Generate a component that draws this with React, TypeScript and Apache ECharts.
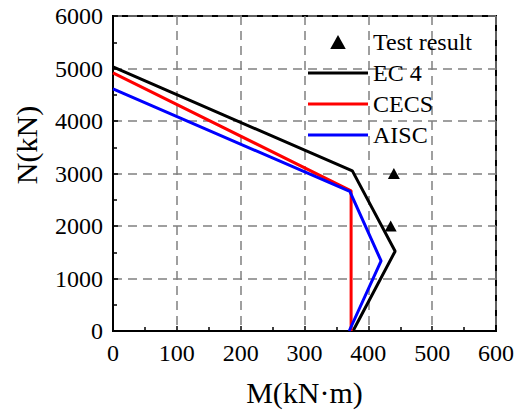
import React, { useEffect, useRef } from "react";
import * as echarts from "echarts";

// Axial force – bending moment interaction curves, M in kN·m, N in kN
const ec4Curve: [number, number][] = [
  [0, 5030],
  [375, 3050],
  [442, 1520],
  [376, 0],
];
const cecsCurve: [number, number][] = [
  [0, 4915],
  [373, 2670],
  [373, 0],
];
const aiscCurve: [number, number][] = [
  [0, 4610],
  [371, 2660],
  [420, 1335],
  [370, 0],
];
const testResults: [number, number][] = [
  [440, 3000],
  [435, 2000],
];

const xTicks = { min: 0, max: 600, interval: 100 };
const yTicks = { min: 0, max: 6000, interval: 1000 };

const FONT = "Liberation Serif";
const TRIANGLE_ICON = "path://M5,0 L10,9 L0,9 Z";
const LINE_ICON = "path://M0,0 L60,0 L60,3 L0,3 Z";

export default function App() {
  const ref = useRef<HTMLDivElement>(null);

  useEffect(() => {
    if (!ref.current) return;
    const chart = echarts.init(ref.current, undefined, { renderer: "svg" });

    const gridLine = {
      show: true,
      lineStyle: { color: "#808080", width: 1.5, type: [9, 6] as number[] },
    };
    const tickLabel = {
      fontFamily: FONT,
      fontSize: 24,
      color: "#000",
      margin: 10,
      formatter: (v: number) => String(v),
    };

    chart.setOption({
      animation: false,
      backgroundColor: "#ffffff",
      textStyle: { fontFamily: FONT },
      grid: {
        left: 113,
        right: 23,
        top: 16,
        bottom: 88,
        show: true,
        borderColor: "#000",
        borderWidth: 2,
        backgroundColor: "transparent",
      },
      xAxis: {
        type: "value",
        min: xTicks.min,
        max: xTicks.max,
        interval: xTicks.interval,
        name: "M(kN·m)",
        nameLocation: "middle",
        nameGap: 46,
        nameTextStyle: { fontFamily: FONT, fontSize: 30, color: "#000" },
        axisLine: { show: true, lineStyle: { color: "#000", width: 2 } },
        axisTick: { show: true, inside: true, length: 5, lineStyle: { color: "#000", width: 1.5 } },
        minorTick: { show: true, splitNumber: 2, length: 4, lineStyle: { color: "#000", width: 1.5 } },
        axisLabel: tickLabel,
        splitLine: gridLine,
      },
      yAxis: {
        type: "value",
        min: yTicks.min,
        max: yTicks.max,
        interval: yTicks.interval,
        axisLine: { show: true, lineStyle: { color: "#000", width: 2 } },
        axisTick: { show: true, inside: true, length: 5, lineStyle: { color: "#000", width: 1.5 } },
        minorTick: { show: true, splitNumber: 2, length: 4, lineStyle: { color: "#000", width: 1.5 } },
        axisLabel: tickLabel,
        splitLine: gridLine,
      },
      legend: {
        orient: "vertical",
        left: 308,
        top: 30,
        padding: 0,
        itemWidth: 60,
        itemHeight: 14,
        itemGap: 7,
        symbolKeepAspect: true,
        textStyle: { fontFamily: FONT, fontSize: 24, color: "#000", lineHeight: 24 },
        data: [
          { name: "Test result", icon: TRIANGLE_ICON },
          { name: "EC 4", icon: LINE_ICON },
          { name: "CECS", icon: LINE_ICON },
          { name: "AISC", icon: LINE_ICON },
        ],
      },
      graphic: [
        {
          type: "text",
          x: 26,
          y: 145,
          rotation: Math.PI / 2,
          style: {
            text: "N(kN)",
            font: `30px ${FONT}`,
            fill: "#000",
            textAlign: "center",
            textVerticalAlign: "middle",
          },
        },
      ],
      series: [
        {
          name: "Test result",
          type: "scatter",
          data: testResults,
          symbol: "triangle",
          symbolSize: [12, 11],
          itemStyle: { color: "#000", opacity: 1 },
          z: 5,
        },
        {
          name: "EC 4",
          type: "line",
          data: ec4Curve,
          symbol: "none",
          color: "#000000",
          lineStyle: { color: "#000000", width: 3 },
        },
        {
          name: "CECS",
          type: "line",
          data: cecsCurve,
          symbol: "none",
          color: "#ff0000",
          lineStyle: { color: "#ff0000", width: 3 },
        },
        {
          name: "AISC",
          type: "line",
          data: aiscCurve,
          symbol: "none",
          color: "#0000ff",
          lineStyle: { color: "#0000ff", width: 3 },
        },
      ],
    });

    return () => chart.dispose();
  }, []);

  return (
    <div
      ref={ref}
      style={{ position: "fixed", left: 0, top: 0, width: 519, height: 419, background: "#fff" }}
    />
  );
}
